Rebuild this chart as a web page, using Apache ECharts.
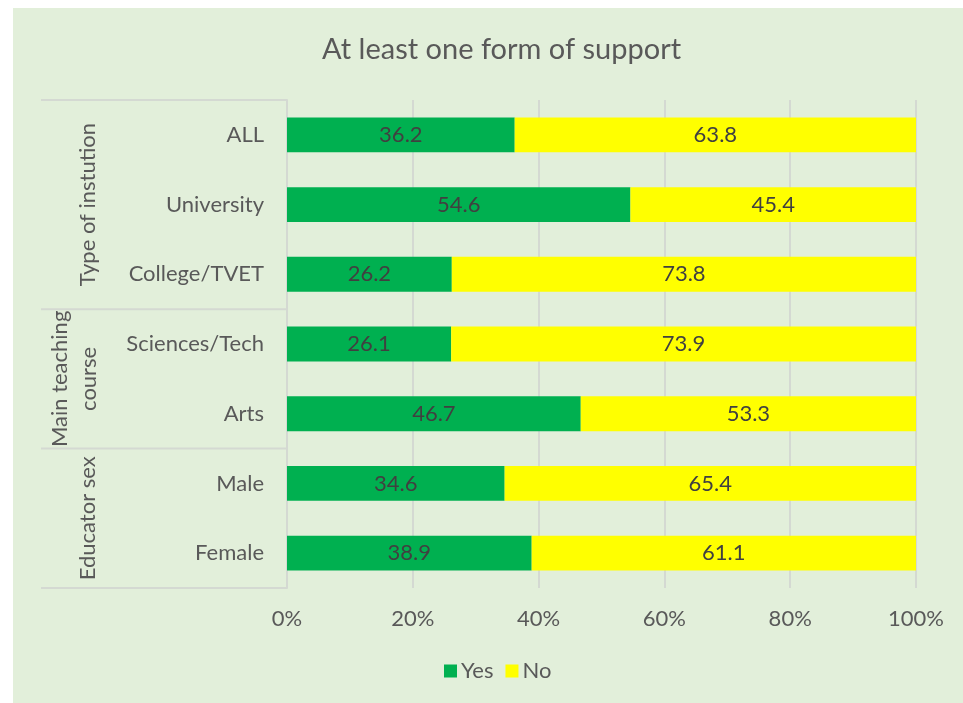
<!DOCTYPE html>
<html>
<head>
<meta charset="utf-8">
<script src="https://cdn.jsdelivr.net/npm/echarts@6/dist/echarts.min.js"></script>
<style>
  html, body { margin: 0; padding: 0; background: #ffffff; width: 963px; height: 703px; overflow: hidden; }
  #chart { position: absolute; left: 13px; top: 8px; width: 950px; height: 695px; background: #E2EFDA; }
</style>
</head>
<body>
<div id="chart"></div>
<script>
const title = 'At least one form of support';
const categories = ['ALL', 'University', 'College/TVET', 'Sciences/Tech', 'Arts', 'Male', 'Female'];
const yesValues = [36.2, 54.6, 26.2, 26.1, 46.7, 34.6, 38.9];
const noValues = [63.8, 45.4, 73.8, 73.9, 53.3, 65.4, 61.1];
const groupNames = ['Type of instution', 'Main teaching\ncourse', 'Educator sex'];
const groupSpans = [[0, 2], [3, 4], [5, 6]];
const xTicks = [0, 20, 40, 60, 80, 100];

const FONT = 'Lato';
const chart = echarts.init(document.getElementById('chart'), null, { renderer: 'canvas' });

const labelStyle = {
  show: true,
  position: 'inside',
  color: '#404040',
  fontSize: 22,
  fontFamily: FONT,
  formatter: p => p.value.toFixed(1)
};

const option = {
  backgroundColor: '#E2EFDA',
  animation: false,
  title: {
    text: title,
    left: 304,
    top: 22,
    textStyle: { color: '#595959', fontSize: 29, fontWeight: 'normal', fontFamily: FONT }
  },
  legend: {
    bottom: 16,
    left: 426,
    itemWidth: 13,
    itemHeight: 13,
    itemGap: 12,
    icon: 'rect',
    textStyle: { color: '#595959', fontSize: 22, fontFamily: FONT, padding: [0, 0, 0, -1] },
    data: ['Yes', 'No']
  },
  grid: { left: 274, right: 47, top: 92, bottom: 115, containLabel: false },
  xAxis: {
    type: 'value',
    min: xTicks[0],
    max: xTicks[xTicks.length - 1],
    interval: xTicks[1] - xTicks[0],
    axisLine: { show: false },
    axisTick: { show: false },
    splitLine: { show: true, lineStyle: { color: '#D4D9D2', width: 2 } },
    axisLabel: { formatter: '{value}%', color: '#595959', fontSize: 22, fontFamily: FONT, margin: 20 }
  },
  yAxis: {
    type: 'category',
    inverse: true,
    data: categories,
    axisLine: { show: true, lineStyle: { color: '#D4D9D2', width: 2 } },
    axisTick: { show: false },
    axisLabel: { color: '#595959', fontSize: 22, fontFamily: FONT, margin: 23 }
  },
  series: [
    { name: 'Yes', type: 'bar', stack: 'total', barWidth: '50%', data: yesValues,
      itemStyle: { color: '#00B050' }, label: labelStyle },
    { name: 'No', type: 'bar', stack: 'total', barWidth: '50%', data: noValues,
      itemStyle: { color: '#FFFF00' }, label: labelStyle }
  ]
};
chart.setOption(option);

// Multi-level category decorations, positioned from the axis scale
function drawGroups() {
  const c0 = chart.convertToPixel({ yAxisIndex: 0 }, categories[0]);
  const c1 = chart.convertToPixel({ yAxisIndex: 0 }, categories[1]);
  const band = c1 - c0;
  const axisX = chart.convertToPixel({ xAxisIndex: 0 }, 0);
  const leftX = 28;
  const graphics = [];
  const lineStyle = { stroke: '#D4D9D2', lineWidth: 2 };
  const boundaries = [c0 - band / 2];
  groupSpans.forEach(s => {
    const yEnd = chart.convertToPixel({ yAxisIndex: 0 }, categories[s[1]]) + band / 2;
    boundaries.push(yEnd);
  });
  boundaries.forEach(y => {
    graphics.push({ type: 'line', shape: { x1: leftX, y1: y, x2: axisX, y2: y }, style: lineStyle, silent: true });
  });
  groupSpans.forEach((s, i) => {
    const yMid = (boundaries[i] + boundaries[i + 1]) / 2;
    const twoLines = groupNames[i].indexOf('\n') >= 0;
    graphics.push({
      type: 'text',
      x: twoLines ? 61 : 75, y: yMid,
      rotation: Math.PI / 2,
      style: {
        text: groupNames[i],
        fill: '#595959',
        font: '22px ' + FONT,
        align: 'center',
        verticalAlign: 'middle',
        lineHeight: 29
      },
      silent: true
    });
  });
  chart.setOption({ graphic: graphics });
}
drawGroups();
</script>
</body>
</html>
